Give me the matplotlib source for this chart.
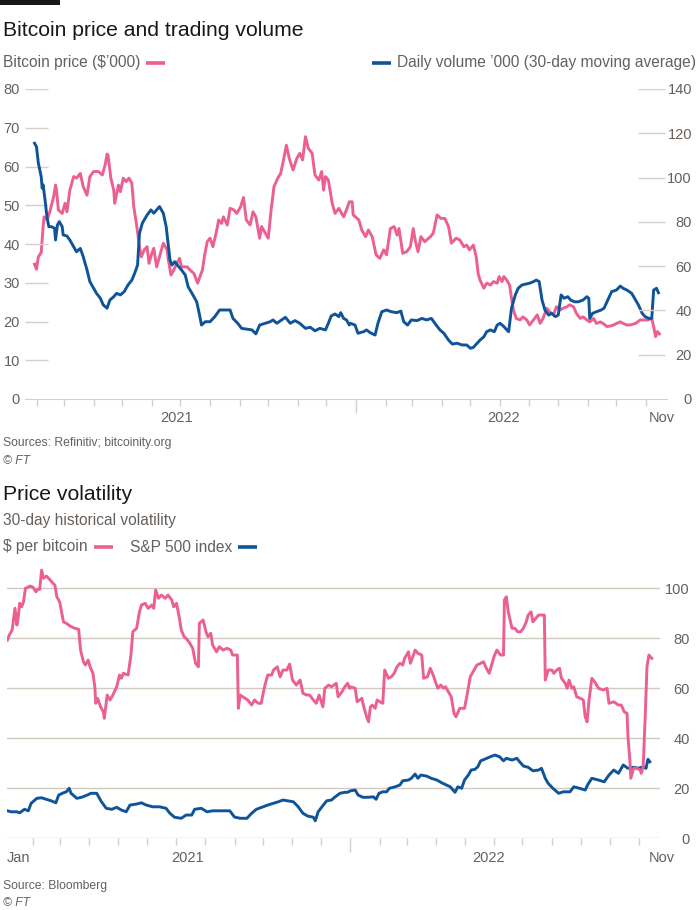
import pandas as pd
import matplotlib
matplotlib.use('Agg')
import matplotlib.pyplot as plt
import matplotlib.dates as mdates
from matplotlib.lines import Line2D
from matplotlib.patches import Rectangle
from matplotlib.ticker import NullFormatter

# all x values are days counted from 1 Feb 2021
BASE = pd.Timestamp('2021-02-01')

# Bitcoin price ($'000), left axis of top chart
btc_price = [
    (-3, 34.8), (-1, 33.5), (1, 36.7), (4, 37.8), (6, 44.5), (7, 47), (10, 46.2), (13, 48.3),
    (17, 52.2), (19, 55.2), (20, 53.9), (22, 48.8), (26, 47.9), (29, 50.5), (31, 48.3),
    (34, 53.9), (38, 57.4), (41, 57), (45, 58.2), (48, 54.8), (52, 52.6), (55, 57.4),
    (59, 58.7), (64, 58.7), (68, 57.8), (71, 60.4), (73, 63.2), (74, 63), (77, 57),
    (80, 53.9), (81, 50.5), (85, 55.2), (87, 53.5), (90, 57), (93, 56.1), (96, 57),
    (99, 55.7), (101, 49.6), (104, 44.9), (107, 39.3), (109, 36.7), (112, 38.5), (115, 39.3),
    (117, 35), (120, 37.6), (122, 38.9), (125, 34.1), (128, 36.7), (132, 40.2), (136, 38.5),
    (137, 36.3), (140, 32), (143, 33.3), (146, 35), (149, 36.3), (151, 34.1), (157, 34.1),
    (160, 33.3), (164, 32.4), (168, 29.9), (171, 32), (173, 33.3), (175, 36.7), (178, 40.6),
    (181, 41.5), (184, 39.3), (188, 43.6), (190, 46.2), (193, 45.3), (195, 47), (199, 44.9),
    (202, 49.2), (206, 48.8), (209, 47.9), (213, 49.6), (216, 52), (219, 46.2), (223, 44.9),
    (226, 48.3), (229, 47), (233, 41.5), (235, 44.5), (239, 42.8), (242, 41.5), (245, 48.8),
    (248, 54.8), (252, 57), (255, 58.2), (258, 61.7), (261, 65.5), (264, 62.1), (268, 59.1),
    (272, 62.1), (275, 63.4), (278, 61.7), (281, 67.7), (284, 64.7), (288, 63.4), (291, 57.8),
    (295, 56.5), (298, 58.7), (300, 53.9), (302, 57.4), (305, 56.5), (309, 50.5), (312, 47.9),
    (316, 49.2), (321, 47), (324, 48.8), (327, 50.9), (330, 50.9), (331, 47.5), (337, 46.2),
    (340, 43.6), (344, 41.9), (347, 43.6), (351, 41.9), (355, 37.2), (359, 36.3), (363, 38.5),
    (366, 37.2), (370, 44), (374, 44.5), (377, 42.3), (379, 44), (383, 37.6), (387, 38),
    (391, 39.3), (394, 44), (396, 41), (399, 38), (402, 41.9), (406, 40.6), (412, 41.9),
    (415, 42.8), (419, 47.5), (423, 46.6), (427, 46.6), (431, 44.5), (434, 40.2), (439, 41.5),
    (443, 41), (447, 39.3), (450, 39.7), (453, 38.5), (457, 39.7), (460, 36.7), (462, 32.4),
    (464, 30.7), (468, 28.6), (471, 29.9), (475, 29.4), (478, 30.3), (482, 29.9), (484, 31.6),
    (487, 30.3), (489, 31.6), (492, 30.7), (495, 29.4), (497, 26), (499, 23), (502, 20.8),
    (506, 20.4), (509, 21.2), (513, 20.4), (516, 19.1), (520, 20.4), (524, 21.7), (527, 19.5),
    (530, 20.8), (534, 23.4), (537, 22.5), (541, 21.7), (544, 23.8), (548, 23), (551, 23.4),
    (555, 23.8), (558, 24.3), (562, 23.8), (565, 22.1), (569, 20.8), (572, 21.2), (576, 20.4),
    (579, 19.9), (583, 20.8), (586, 19.5), (590, 19.9), (593, 19.5), (597, 18.7), (600, 18.8),
    (604, 19.1), (607, 19.5), (611, 19.9), (614, 19.5), (618, 19.1), (621, 19.1), (627, 19.5),
    (632, 20.4), (635, 20.4), (640, 20.4), (644, 20.8), (646, 18.7), (648, 16.1), (650, 17.4),
    (652, 16.8),
]

# daily volume '000, 30-day moving average, right axis of top chart
btc_volume = [
    (-3, 115.5), (-1, 114), (1, 106.5), (4, 100.4), (5, 95.2), (6, 96.7), (8, 89.9), (10, 82.3),
    (12, 77.8), (15, 77.8), (18, 77.1), (19, 71.8), (21, 78.6), (23, 80.1), (26, 77.8),
    (27, 74.1), (31, 73.6), (34, 71.8), (38, 68.8), (41, 66.5), (45, 68), (48, 64.3),
    (52, 58.3), (55, 53), (58, 50.7), (62, 47.7), (66, 45.5), (69, 42.5), (73, 41), (76, 44.7),
    (80, 46.2), (83, 47.7), (87, 47), (91, 48.5), (95, 51.5), (99, 53.7), (102, 56.8),
    (105, 60.5), (107, 74.8), (110, 79.4), (115, 83.1), (119, 85.4), (122, 83.9), (125, 85.4),
    (128, 86.9), (132, 83.9), (135, 77.8), (137, 70.3), (139, 62.8), (141, 60.5), (144, 62),
    (148, 59.8), (151, 58.3), (155, 56), (158, 50.7), (163, 47), (167, 43.9), (170, 37.9),
    (172, 33.4), (176, 34.9), (181, 34.9), (186, 37.2), (191, 40.2), (196, 40.2), (202, 40.2),
    (205, 36.4), (210, 34.2), (214, 31.9), (220, 31.5), (225, 31.2), (229, 29.4), (233, 33.4),
    (239, 34.2), (244, 34.9), (247, 35.7), (251, 34.2), (256, 35.7), (260, 36.9), (265, 34.2),
    (270, 35.4), (275, 34.2), (281, 31.9), (286, 32.4), (291, 30.8), (296, 31.9), (302, 31.2),
    (305, 34.2), (308, 37.5), (312, 38.4), (316, 37.2), (318, 39), (321, 36.4), (324, 35.7),
    (327, 33.4), (328, 34.2), (333, 33.4), (336, 29.7), (342, 30.4), (345, 31.2), (349, 29.9),
    (354, 28.9), (357, 34.2), (361, 39.4), (366, 40.2), (371, 39.4), (377, 39), (381, 39.7),
    (384, 34.9), (388, 33.4), (392, 35.7), (398, 35.4), (403, 36.4), (408, 35.7), (413, 36.4),
    (418, 33.4), (422, 31.2), (426, 29.7), (431, 26.6), (435, 24.8), (440, 25.2), (445, 24.4),
    (450, 24.4), (454, 22.9), (457, 23.3), (461, 25.2), (464, 26.6), (468, 28.1), (471, 30.4),
    (475, 31.2), (479, 30.4), (482, 33.4), (485, 34.2), (489, 32.7), (492, 31.2), (494, 30.4),
    (497, 41), (501, 47), (504, 50), (508, 51.5), (512, 51.9), (516, 52.3), (520, 53),
    (523, 53.7), (526, 53), (529, 44.7), (532, 40.2), (536, 37.9), (539, 38.7), (543, 37.2),
    (546, 37.9), (549, 47), (552, 45.5), (556, 46.2), (559, 44.7), (563, 43.9), (567, 43.9),
    (572, 44.7), (576, 46.2), (578, 45.5), (579, 36.4), (582, 38.7), (586, 39.4), (591, 40.2),
    (594, 41), (598, 44.7), (602, 48.5), (607, 49.2), (611, 51), (614, 50), (618, 49.2),
    (623, 47.7), (627, 44.7), (630, 42.5), (634, 38.7), (637, 37.2), (641, 36.4), (644, 36.4),
    (646, 49.2), (649, 50), (651, 48),
]

# 30-day historical volatility, $ per bitcoin
btc_volatility = [
    (-27, 79.3), (-25, 81.3), (-22, 83.3), (-19, 92), (-17, 85.3), (-16, 87.3), (-14, 94),
    (-12, 92.6), (-10, 94.6), (-8, 100), (-3, 100.9), (0, 100.4), (3, 98.6), (5, 99.6),
    (7, 99.6), (9, 107.3), (11, 104), (14, 104.9), (18, 103.3), (21, 102), (23, 101.3),
    (25, 96.6), (28, 94.6), (30, 90.6), (32, 86.6), (35, 86), (39, 84.9), (44, 84), (48, 83.6),
    (50, 75.3), (53, 70.6), (55, 69.3), (58, 71.3), (60, 68.6), (63, 66), (65, 60.6), (66, 54),
    (68, 56), (71, 52.6), (74, 50.6), (75, 48), (78, 57.3), (81, 55.3), (84, 57.3), (88, 60.6),
    (91, 65.3), (93, 64), (95, 66), (100, 65.3), (103, 73.3), (105, 82.6), (109, 84),
    (112, 90.6), (114, 93.3), (118, 94), (121, 92), (125, 93.3), (127, 92), (129, 99.3),
    (132, 96), (135, 97.3), (139, 96), (142, 97.3), (146, 95.3), (148, 92.6), (151, 94),
    (154, 88), (156, 83.3), (159, 80.6), (161, 80), (165, 78), (168, 76), (171, 70), (174, 68.6),
    (175, 86), (179, 87.3), (182, 82.6), (184, 80.6), (187, 82), (189, 77.3), (193, 74.6),
    (196, 76.6), (200, 75.3), (204, 76), (208, 75.3), (210, 73.3), (215, 73.3), (216, 52),
    (218, 57.3), (223, 56), (226, 55.3), (230, 53.3), (233, 55.3), (237, 54), (240, 54),
    (244, 61.3), (247, 65.3), (251, 65.3), (253, 67.3), (257, 68.6), (260, 64.6), (263, 67.3),
    (267, 67.3), (270, 69.7), (273, 63.3), (277, 61.3), (281, 63.3), (284, 58), (288, 57.3),
    (291, 57.3), (295, 55.3), (298, 54), (301, 57.3), (305, 52.6), (307, 60), (311, 61.3),
    (314, 60.6), (319, 62), (321, 56.6), (325, 58.6), (328, 60.6), (331, 62), (333, 60),
    (334, 60.6), (339, 60), (341, 54.6), (346, 56), (348, 52.6), (351, 48.6), (353, 46.6),
    (355, 52.6), (357, 53.3), (360, 52), (362, 55.3), (365, 54.6), (368, 54), (370, 67.3),
    (374, 64), (377, 64.6), (380, 66), (383, 68.6), (386, 70), (389, 69.3), (391, 72),
    (395, 74.6), (397, 70), (399, 72), (402, 75.3), (405, 74), (409, 73.3), (411, 64),
    (415, 64.6), (418, 68), (421, 65.3), (424, 62), (426, 60), (429, 61.3), (432, 60),
    (434, 60.6), (437, 58.6), (440, 56.6), (443, 50), (445, 48.6), (449, 52), (454, 52),
    (457, 58), (460, 64.6), (463, 66.6), (467, 69.3), (471, 70), (474, 70.6), (477, 68),
    (480, 66), (483, 70), (485, 72.6), (488, 75.3), (492, 73.3), (495, 73.3), (496, 95.3),
    (498, 96.6), (500, 90.6), (504, 84), (507, 84), (510, 82.6), (513, 82.6), (516, 84),
    (519, 86.6), (521, 89.3), (524, 90.6), (526, 86.6), (529, 88), (532, 89.3), (538, 89.3),
    (539, 63.3), (542, 67.3), (546, 67.3), (548, 66), (551, 67.3), (554, 68), (556, 64),
    (560, 62), (562, 60), (564, 63.3), (567, 60), (569, 60.6), (572, 56.6), (576, 56),
    (579, 55.3), (581, 48.6), (583, 46.6), (585, 55.3), (588, 64), (591, 62.6), (595, 60),
    (600, 59.3), (604, 60), (606, 54), (611, 54.6), (616, 53.3), (619, 53.3), (622, 50.6),
    (625, 50), (626, 40.6), (628, 31.3), (629, 24), (632, 28), (635, 28), (639, 27.3),
    (640, 26), (642, 28.6), (644, 47.3), (646, 68.6), (648, 73.3), (651, 72),
]

# 30-day historical volatility, S&P 500 index
spx_volatility = [
    (-27, 11), (-23, 10.6), (-17, 10.6), (-14, 10.2), (-9, 11.6), (-5, 11), (-2, 14), (4, 16),
    (9, 16.2), (14, 15.6), (19, 15), (24, 14.2), (27, 17.3), (32, 18.2), (35, 18.6), (38, 20),
    (40, 18), (46, 16), (51, 16.4), (57, 17.3), (61, 18), (67, 18), (72, 14.6), (77, 12),
    (83, 11.6), (88, 12.4), (93, 11.3), (98, 10.6), (102, 13.3), (109, 13.7), (114, 14.2),
    (119, 13.3), (126, 12.6), (133, 12.6), (140, 12), (144, 10), (149, 8.4), (156, 8),
    (161, 9.3), (167, 9.3), (170, 11.6), (177, 12), (183, 10.6), (189, 11), (196, 11),
    (207, 11), (212, 8.5), (218, 8), (225, 8), (230, 10), (235, 11.6), (242, 12.6), (247, 13.3),
    (253, 14), (258, 14.6), (263, 15.3), (268, 15), (274, 14.6), (279, 12.6), (284, 10),
    (289, 8.9), (295, 8.4), (297, 7), (300, 10.6), (304, 12.6), (309, 15), (314, 15.3),
    (318, 16.6), (323, 18), (328, 18.4), (331, 18.4), (334, 19), (339, 19.3), (342, 17.3),
    (347, 16.4), (353, 16.4), (358, 16.6), (361, 15.6), (364, 18), (368, 18.6), (372, 18.6),
    (375, 20), (381, 20.6), (386, 21.3), (389, 23), (395, 23.3), (398, 24), (402, 25.7),
    (405, 24), (408, 25.3), (414, 24.9), (419, 24), (425, 23.3), (430, 22.2), (435, 21.3),
    (439, 20.6), (444, 18.4), (447, 20.6), (451, 20), (454, 23.3), (458, 25.3), (461, 27.3),
    (465, 27.6), (468, 28.6), (471, 31), (475, 31.6), (481, 32.6), (486, 33.3), (491, 32.6),
    (495, 31), (498, 32), (504, 31.3), (509, 32), (512, 30.6), (516, 28.9), (521, 28.4),
    (526, 27), (532, 27.3), (535, 28), (539, 24), (542, 22), (547, 20), (553, 18), (558, 18.6),
    (565, 18.6), (569, 20.6), (575, 20), (581, 19.3), (584, 21.7), (588, 24), (595, 23.3),
    (601, 22.6), (606, 25.3), (611, 27.3), (616, 26), (621, 29.3), (626, 28), (632, 28.4),
    (637, 28), (642, 28.6), (645, 28), (647, 31.6), (649, 30.6),
]

price_ticks = [0, 10, 20, 30, 40, 50, 60, 70, 80]
volume_ticks = [0, 20, 40, 60, 80, 100, 120, 140]
volatility_ticks = [0, 20, 40, 60, 80, 100]
top_xlabels = [(146, '2021'), (489, '2022'), (655, 'Nov')]
bottom_xlabels = [(-15, 'Jan'), (163, '2021'), (479, '2022'), (662, 'Nov')]

PINK = '#ec5f92'
BLUE = '#0f5499'
GREY = '#66605c'
DARK = '#1a1817'
RULE = '#d6d0c9'
GRID = '#d2c9bf'
W, H = 700, 910
LEGEND_SIZE = 11.2

plt.rcParams['font.family'] = ['Liberation Sans', 'DejaVu Sans']


def to_dates(days):
    return BASE + pd.to_timedelta(days, unit='D')


def split(series):
    days, values = zip(*series)
    return to_dates(list(days)), list(values)


def box(left, top, right, bottom):
    # pixel box -> figure fraction
    return [left / W, 1 - bottom / H, (right - left) / W, (bottom - top) / H]


def fy(y):
    return 1 - y / H


def style_time_axis(ax, labels):
    ax.xaxis.set_major_locator(mdates.YearLocator())
    ax.xaxis.set_minor_locator(mdates.MonthLocator())
    ax.xaxis.set_major_formatter(NullFormatter())
    ax.tick_params(axis='x', which='major', length=10, width=1, color=RULE)
    ax.tick_params(axis='x', which='minor', length=5, width=1, color=RULE)
    for day, text in labels:
        ax.annotate(text, xy=(to_dates([day])[0], 0), xycoords=('data', 'axes fraction'),
                    xytext=(0, -14), textcoords='offset points',
                    ha='center', va='center', fontsize=10.5, color=GREY,
                    annotation_clip=False)


def legend_item(fig, x, y, text, color, dash_first=False):
    # key text plus a short coloured dash next to it
    ha = 'right' if dash_first else 'left'
    t = fig.text(x / W, fy(y), text, fontsize=LEGEND_SIZE, color=GREY, va='center', ha=ha)
    bb = t.get_window_extent(renderer=fig.canvas.get_renderer())
    gap, length = 6, 19
    x0 = bb.x0 - gap - length if dash_first else bb.x1 + gap
    fig.add_artist(Line2D([x0 / W, (x0 + length) / W], [fy(y), fy(y)],
                          transform=fig.transFigure, color=color, lw=2.6,
                          solid_capstyle='butt'))


fig = plt.figure(figsize=(7, 9.1), dpi=100, facecolor='white')
fig.add_artist(Rectangle((0, fy(5)), 60 / W, 5 / H, transform=fig.transFigure,
                         color=DARK, lw=0))

# ---- top chart: price and volume ----
fig.text(3 / W, fy(30), 'Bitcoin price and trading volume', fontsize=15.2,
         color=DARK, va='center')
legend_item(fig, 3, 63, r'Bitcoin price (\$’000)', PINK)
legend_item(fig, 696, 63, 'Daily volume ’000 (30-day moving average)', BLUE, dash_first=True)

ax = fig.add_axes(box(25, 89, 667, 399))
ax2 = ax.twinx()
x, y = split(btc_price)
ax.plot(x, y, color=PINK, lw=2.1, solid_joinstyle='round')
x, y = split(btc_volume)
ax2.plot(x, y, color=BLUE, lw=2.1, solid_joinstyle='round')

ax.set_xlim(to_dates([-13])[0], to_dates([660])[0])
ax.set_ylim(0, 80)
ax2.set_ylim(0, 140)
ax.set_yticks(price_ticks)
ax2.set_yticks(volume_ticks)
ax.tick_params(axis='y', length=0, pad=3.6, labelsize=10.5, labelcolor=GREY)
ax2.tick_params(axis='y', length=0, pad=18, labelsize=10.5, labelcolor=GREY)
for lab in ax2.get_yticklabels():
    lab.set_horizontalalignment('right')
ax.hlines(price_ticks[1:], 0, 23 / 642, transform=ax.get_yaxis_transform(),
          color=RULE, lw=1)
ax2.hlines(volume_ticks[1:], 613 / 642, 640 / 642, transform=ax2.get_yaxis_transform(),
           color=RULE, lw=1)
for a in (ax, ax2):
    for side in ('top', 'left', 'right', 'bottom'):
        a.spines[side].set_visible(False)
ax.spines['bottom'].set_visible(True)
ax.spines['bottom'].set_color(RULE)
ax.patch.set_visible(False)
style_time_axis(ax, top_xlabels)

fig.text(3 / W, fy(443), 'Sources: Refinitiv; bitcoinity.org', fontsize=8.7,
         color=GREY, va='center')
fig.text(3 / W, fy(461), '© FT', fontsize=8.7, color=GREY, va='center', style='italic')

# ---- bottom chart: volatility ----
fig.text(3 / W, fy(495), 'Price volatility', fontsize=15.2, color=DARK, va='center')
fig.text(3 / W, fy(521), '30-day historical volatility', fontsize=LEGEND_SIZE, color=GREY,
         va='center')
legend_item(fig, 3, 547, r'\$ per bitcoin', PINK)
legend_item(fig, 130, 547, 'S&P 500 index', BLUE)

bx = fig.add_axes(box(7, 563.3, 660, 838.3))
x, y = split(spx_volatility)
bx.plot(x, y, color=BLUE, lw=2.1, solid_joinstyle='round')
x, y = split(btc_volatility)
bx.plot(x, y, color=PINK, lw=2.1, solid_joinstyle='round')
bx.set_xlim(BASE - pd.Timedelta(days=27.4), BASE + pd.Timedelta(days=659.7))
bx.set_ylim(0, 110)
bx.set_yticks(volatility_ticks)
bx.yaxis.tick_right()
bx.tick_params(axis='y', length=0, pad=21.6, labelsize=10.5, labelcolor=GREY)
for lab in bx.get_yticklabels():
    lab.set_horizontalalignment('right')
bx.grid(True, axis='y', color=GRID, lw=1)
bx.set_axisbelow(True)
for side in ('top', 'left', 'right', 'bottom'):
    bx.spines[side].set_visible(False)
bx.patch.set_visible(False)
style_time_axis(bx, bottom_xlabels)

fig.text(3 / W, fy(886), 'Source: Bloomberg', fontsize=8.7, color=GREY, va='center')
fig.text(3 / W, fy(903), '© FT', fontsize=8.7, color=GREY, va='center', style='italic')

fig.savefig('out.png', dpi=100, facecolor='white')
